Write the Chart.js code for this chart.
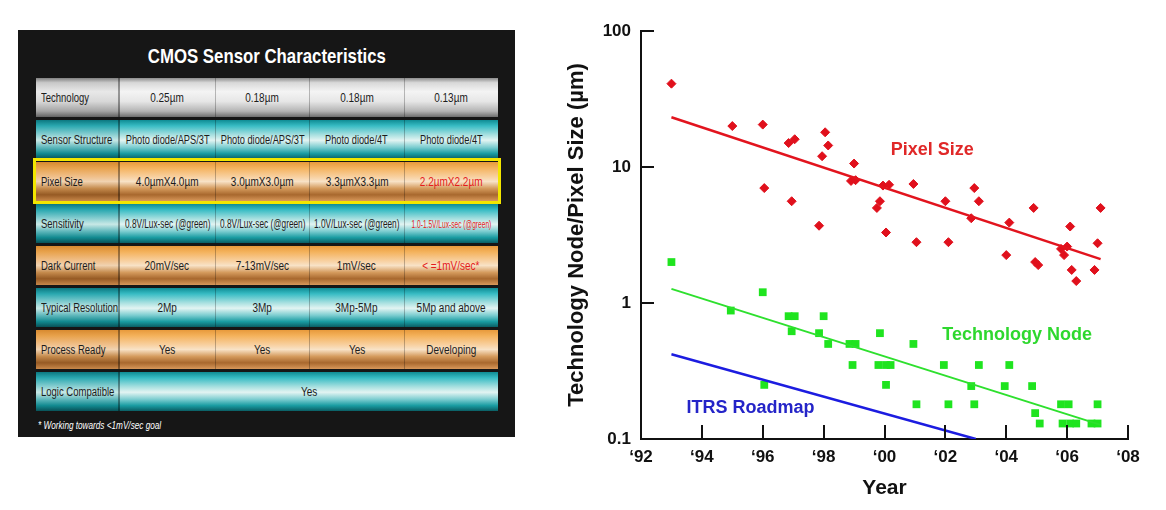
<!DOCTYPE html>
<html>
<head>
<meta charset="utf-8">
<script src="https://cdn.jsdelivr.net/npm/chart.js@4.4.1/dist/chart.umd.min.js"></script>
<style>
html,body{margin:0;padding:0;background:#fff;width:1166px;height:510px;overflow:hidden;}
#panel{position:absolute;left:18px;top:30px;width:497px;height:407px;background:#161616;}
#ptitle{position:absolute;left:0;top:14px;width:497px;text-align:center;color:#fff;
  font-family:'Liberation Sans',Arial,sans-serif;font-weight:bold;font-size:21px;}
#ptitle span{display:inline-block;transform:scaleX(0.8);transform-origin:center;}
.row{position:absolute;left:18px;width:462px;height:39px;display:flex;}
.cell{height:100%;display:flex;align-items:center;justify-content:center;box-sizing:border-box;
  font-family:'Liberation Sans',Arial,sans-serif;font-size:12.5px;color:#1c1c1c;
  border-left:1px solid rgba(0,0,0,0.25);white-space:nowrap;overflow:visible;}
.cell span{display:inline-block;transform:scaleX(0.8);transform-origin:center;}
.cell.lab{justify-content:flex-start;padding-left:5px;border-left:none;border-right:2px solid rgba(0,0,0,0.35);}
.cell.lab span{transform-origin:left center;transform:scaleX(0.76);}
.silver{background:linear-gradient(to bottom,#8c8c8c 0%,#d8d8d8 12%,#f4f4f4 35%,#e6e6e6 60%,#b4b4b4 85%,#6e6e6e 100%);}
.teal{background:linear-gradient(to bottom,#0f8c94 0%,#38bcc4 15%,#a8e0e0 38%,#e2f4f2 52%,#7ccdd0 70%,#1a9ca2 86%,#0a5e64 100%);}
.orange{background:linear-gradient(to bottom,#e89a3c 0%,#f4b25c 15%,#f8d0a0 38%,#f8e2c6 50%,#d49a5c 68%,#a8682e 84%,#d8985a 100%);}
.lab.teal{background:linear-gradient(to bottom,#0c7880 0%,#2aa8b0 15%,#8cd0d2 38%,#c8e8e6 52%,#60b8bc 70%,#128a90 86%,#085258 100%);}
.lab.orange{background:linear-gradient(to bottom,#d88a30 0%,#e8a24c 15%,#f0c08c 38%,#f0d2b0 50%,#c48a4c 68%,#965a24 84%,#c8884a 100%);}
.lab.silver{background:linear-gradient(to bottom,#808080 0%,#c8c8c8 12%,#e8e8e8 35%,#d8d8d8 60%,#a4a4a4 85%,#626262 100%);}
.red{color:#e41c1c;}
#hl{position:absolute;left:15px;top:128px;width:468px;height:46px;border:3px solid #f2e600;box-sizing:border-box;}
#foot{position:absolute;left:20px;top:389px;color:#fff;font-family:'Liberation Sans',Arial,sans-serif;font-style:italic;font-size:10.5px;
  transform:scaleX(0.78);transform-origin:left center;white-space:nowrap;}
#chartBox{position:absolute;left:540px;top:0;width:610px;height:510px;}
</style>
</head>
<body>
<div id="panel">
  <div id="ptitle"><span>CMOS Sensor Characteristics</span></div>
  <div id="rows"></div>
  <div id="hl"></div>
  <div id="foot">* Working towards &lt;1mV/sec goal</div>
</div>
<div id="chartBox"><canvas id="c" width="610" height="510"></canvas></div>
<script>
// ---------- Table data ----------
const tableRowLabels = ['Technology','Sensor Structure','Pixel Size','Sensitivity','Dark Current','Typical Resolution','Process Ready','Logic Compatible'];
const technology = ['0.25µm','0.18µm','0.18µm','0.13µm'];
const sensorStructure = ['Photo diode/APS/3T','Photo diode/APS/3T','Photo diode/4T','Photo diode/4T'];
const pixelSizeCells = ['4.0µmX4.0µm','3.0µmX3.0µm','3.3µmX3.3µm','2.2µmX2.2µm'];
const sensitivity = ['0.8V/Lux-sec (@green)','0.8V/Lux-sec (@green)','1.0V/Lux-sec (@green)','1.0-1.5V/Lux-sec (@green)'];
const darkCurrent = ['20mV/sec','7-13mV/sec','1mV/sec','< =1mV/sec*'];
const typicalResolution = ['2Mp','3Mp','3Mp-5Mp','5Mp and above'];
const processReady = ['Yes','Yes','Yes','Developing'];
const logicCompatible = ['Yes'];

// ---------- Chart data ----------
const pixelYears = [1993.0,1995.0,1996.0,1996.05,1996.85,1997.05,1996.95,1998.05,1998.15,1997.95,1997.85,1999.0,1998.9,1999.05,1999.95,2000.15,1999.85,1999.75,2000.05,2000.95,2001.05,2002.0,2002.1,2002.95,2003.1,2002.85,2004.1,2004.0,2004.9,2004.95,2005.05,2005.8,2006.0,2005.9,2006.1,2006.15,2006.3,2006.9,2007.0,2007.1];
const pixelSizes = [41,20,20.5,7.0,15,16,5.6,18,14.4,12,3.7,10.6,7.9,8.0,7.3,7.4,5.6,5.0,3.3,7.5,2.8,5.6,2.8,7.0,5.6,4.2,3.9,2.25,5.0,2.0,1.9,2.5,2.6,2.25,3.65,1.75,1.45,1.75,2.75,5.0];
const nodeYears = [1993.0,1994.95,1996.0,1996.05,1996.85,1997.05,1996.95,1998.0,1997.85,1998.15,1998.85,1999.05,1998.95,1999.85,1999.8,2000.05,2000.2,2000.05,2000.95,2001.05,2001.95,2002.1,2003.1,2002.85,2002.95,2004.1,2003.95,2004.85,2004.95,2005.1,2005.8,2006.05,2005.85,2006.1,2006.3,2007.0,2006.8,2007.0];
const nodeSizes = [2.0,0.88,1.2,0.25,0.8,0.8,0.62,0.8,0.6,0.5,0.5,0.5,0.35,0.6,0.35,0.35,0.35,0.25,0.5,0.18,0.35,0.18,0.35,0.245,0.18,0.35,0.245,0.245,0.155,0.13,0.18,0.18,0.13,0.13,0.13,0.18,0.13,0.13];
const pixelTrendYears = [1993, 2007.1];
const pixelTrendValues = [23.2, 2.1];
const nodeTrendYears = [1993, 2007.1];
const nodeTrendValues = [1.27, 0.127];
const roadmapYears = [1993, 2003];
const roadmapValues = [0.42, 0.1];
const xTickYears = [1992,1994,1996,1998,2000,2002,2004,2006,2008];
const yTickValues = [0.1,1,10,100];
const yTickLabels = ['0.1','1','10','100'];

// ---------- Build table ----------
const tableRows = [
  {cells: technology, cls: 'silver'},
  {cells: sensorStructure, cls: 'teal', squeeze: 0.74},
  {cells: pixelSizeCells, cls: 'orange', redLast: true},
  {cells: sensitivity, cls: 'teal', redLast: true, squeeze: 0.66, lastSqueeze: 0.6},
  {cells: darkCurrent, cls: 'orange', redLast: true},
  {cells: typicalResolution, cls: 'teal'},
  {cells: processReady, cls: 'orange'},
  {cells: logicCompatible, cls: 'teal'}
];
const rowsEl = document.getElementById('rows');
function mkSpan(t) { const s = document.createElement('span'); s.textContent = t; return s; }
tableRows.forEach((r, i) => {
  const row = document.createElement('div');
  row.className = 'row';
  row.style.top = (48 + i * 42) + 'px';
  const lab = document.createElement('div');
  lab.className = 'cell lab ' + r.cls;
  lab.style.width = '84px';
  lab.appendChild(mkSpan(tableRowLabels[i]));
  row.appendChild(lab);
  const w = 378 / r.cells.length;
  r.cells.forEach((t, j) => {
    const c = document.createElement('div');
    c.className = 'cell ' + r.cls;
    if (j === 0) c.style.borderLeft = 'none';
    c.style.width = w + 'px';
    const s = mkSpan(t);
    const last = j === r.cells.length - 1;
    if (r.redLast && last) c.classList.add('red');
    if (r.squeeze) s.style.transform = 'scaleX(' + r.squeeze + ')';
    if (r.lastSqueeze && last) { s.style.fontSize = '11px'; s.style.transform = 'scaleX(' + r.lastSqueeze + ')'; }
    c.appendChild(s);
    row.appendChild(c);
  });
  rowsEl.appendChild(row);
});

// ---------- Chart ----------
const toPts = (xs, ys) => xs.map((x, i) => ({x: x, y: ys[i]}));

const inwardTicks = {
  id: 'inwardTicks',
  afterDraw(chart) {
    const {ctx, chartArea: a, scales: {x, y}} = chart;
    ctx.save();
    ctx.strokeStyle = '#111';
    ctx.lineWidth = 2;
    ctx.beginPath();
    x.ticks.forEach(t => { const px = Math.round(x.getPixelForValue(t.value)); ctx.moveTo(px, a.bottom); ctx.lineTo(px, a.bottom - 14); });
    y.ticks.forEach(t => { const py = Math.round(y.getPixelForValue(t.value)); ctx.moveTo(a.left, py); ctx.lineTo(a.left + 13, py); });
    ctx.stroke();
    ctx.restore();
  }
};

const seriesLabels = {
  id: 'seriesLabels',
  afterDatasetsDraw(chart, args, opts) {
    const {ctx, scales: {x, y}} = chart;
    ctx.save();
    ctx.font = 'bold 18px "Liberation Sans", Arial, sans-serif';
    ctx.textAlign = 'center';
    ctx.textBaseline = 'middle';
    opts.items.forEach(it => {
      ctx.fillStyle = it.color;
      ctx.fillText(it.text, x.getPixelForValue(it.year), y.getPixelForValue(it.value));
    });
    ctx.restore();
  }
};

Chart.defaults.font.family = '"Liberation Sans", Arial, sans-serif';
Chart.defaults.color = '#111';

new Chart(document.getElementById('c'), {
  type: 'scatter',
  data: {
    datasets: [
      {type: 'line', data: toPts(roadmapYears, roadmapValues), borderColor: '#1c1ce0', borderWidth: 2.5, pointRadius: 0, fill: false},
      {type: 'line', data: toPts(nodeTrendYears, nodeTrendValues), borderColor: '#2ee02e', borderWidth: 2, pointRadius: 0, fill: false},
      {type: 'line', data: toPts(pixelTrendYears, pixelTrendValues), borderColor: '#e2141e', borderWidth: 2.5, pointRadius: 0, fill: false},
      {data: toPts(nodeYears, nodeSizes), pointStyle: 'rect', pointRadius: 5.5, backgroundColor: '#1fe41f', borderColor: '#1fe41f', borderWidth: 0},
      {data: toPts(pixelYears, pixelSizes), pointStyle: 'rectRot', pointRadius: 4.5, backgroundColor: '#e0101c', borderColor: '#e0101c', borderWidth: 1}
    ]
  },
  options: {
    responsive: false,
    animation: false,
    events: [],
    layout: {padding: {left: 0, top: 31, right: 22, bottom: 0}},
    plugins: {
      legend: {display: false},
      tooltip: {enabled: false},
      seriesLabels: {
        items: [
          {text: 'Pixel Size', year: 2001.57, value: 13.3, color: '#e02828'},
          {text: 'Technology Node', year: 2004.36, value: 0.58, color: '#2ed82e'},
          {text: 'ITRS Roadmap', year: 1995.6, value: 0.169, color: '#2424c8'}
        ]
      }
    },
    scales: {
      x: {
        type: 'linear', min: 1992, max: 2008,
        grid: {display: false, drawTicks: false},
        border: {display: true, color: '#111', width: 2},
        afterBuildTicks: s => { s.ticks = xTickYears.map(v => ({value: v})); },
        afterFit: s => { s.height = 71; },
        ticks: {padding: 8, font: {size: 17, weight: 'bold'}, color: '#111',
          callback: v => '\u2018' + String(v).slice(2)},
        title: {display: true, text: 'Year', font: {size: 21, weight: 'bold'}, color: '#111', padding: {top: 0, bottom: 9}}
      },
      y: {
        type: 'logarithmic', min: 0.1, max: 100,
        grid: {display: false, drawTicks: false},
        border: {display: true, color: '#111', width: 2},
        afterBuildTicks: s => { s.ticks = yTickValues.map(v => ({value: v})); },
        afterFit: s => { s.width = 101; },
        ticks: {padding: 10, font: {size: 17, weight: 'bold'}, color: '#111',
          callback: (v) => yTickLabels[yTickValues.indexOf(v)] ?? String(v)},
        title: {display: true, text: 'Technology Node/Pixel Size (µm)', font: {size: 22, weight: 'bold'}, color: '#111', padding: {top: 24, bottom: 0}}
      }
    }
  },
  plugins: [inwardTicks, seriesLabels]
});
</script>
</body>
</html>
